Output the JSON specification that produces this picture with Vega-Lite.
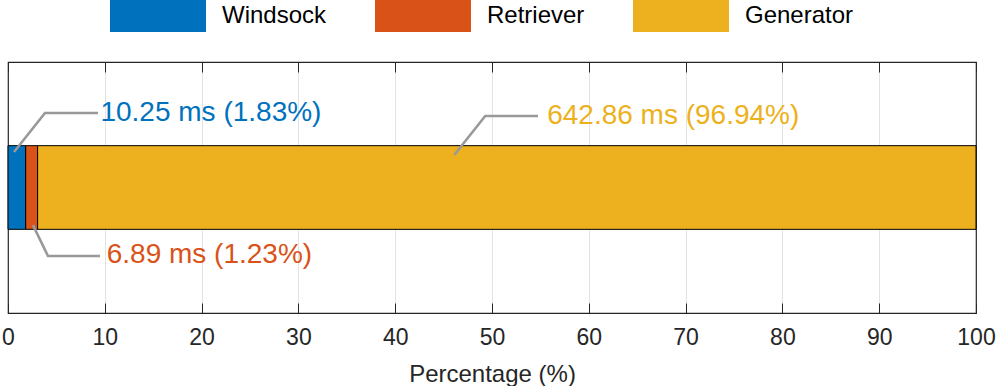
{
  "$schema": "https://vega.github.io/schema/vega-lite/v6.json",
  "width": 968,
  "height": 251,
  "padding": {"left": 1, "right": 2, "top": 0, "bottom": 0},
  "background": "white",
  "config": {
    "font": "Liberation Sans",
    "view": {"stroke": "#262626", "strokeWidth": 1.2}
  },
  "datasets": {
    "parts": [
      {"name": "Windsock", "ms": 10.25, "pct": 1.83, "order": 1},
      {"name": "Retriever", "ms": 6.89, "pct": 1.23, "order": 2},
      {"name": "Generator", "ms": 642.86, "pct": 96.94, "order": 3}
    ],
    "leaders": [
      {"name": "Windsock", "i": 1, "x": 0.62, "y": 1.924},
      {"name": "Windsock", "i": 2, "x": 3.82, "y": 2.39},
      {"name": "Windsock", "i": 3, "x": 9.3, "y": 2.39},
      {"name": "Retriever", "i": 1, "x": 2.58, "y": 1.05},
      {"name": "Retriever", "i": 2, "x": 4.13, "y": 0.681},
      {"name": "Retriever", "i": 3, "x": 9.5, "y": 0.681},
      {"name": "Generator", "i": 1, "x": 46.1, "y": 1.888},
      {"name": "Generator", "i": 2, "x": 49.3, "y": 2.355},
      {"name": "Generator", "i": 3, "x": 54.75, "y": 2.355}
    ],
    "labels": [
      {"name": "Windsock", "x": 9.55, "y": 2.39, "label": "10.25 ms (1.83%)"},
      {"name": "Retriever", "x": 10.2, "y": 0.69, "label": "6.89 ms (1.23%)"},
      {"name": "Generator", "x": 55.7, "y": 2.355, "label": "642.86 ms (96.94%)"}
    ]
  },
  "resolve": {"axis": {"x": "independent"}},
  "layer": [
    {
      "data": {"name": "parts"},
      "transform": [
        {"stack": "pct", "groupby": [], "sort": [{"field": "order", "order": "ascending"}], "as": ["x0", "x1"]}
      ],
      "mark": {"type": "bar", "stroke": "#000000", "strokeWidth": 1},
      "encoding": {
        "x": {
          "field": "x0",
          "type": "quantitative",
          "scale": {"domain": [0, 100], "nice": false, "zero": false},
          "axis": {
            "orient": "bottom",
            "title": "Percentage (%)",
            "values": [0, 10, 20, 30, 40, 50, 60, 70, 80, 90, 100],
            "domain": true,
            "domainColor": "#262626",
            "domainWidth": 1.2,
            "ticks": true,
            "tickSize": -10,
            "tickColor": "#262626",
            "tickWidth": 1,
            "grid": true,
            "gridColor": {"condition": {"test": "datum.value === 0 || datum.value === 100", "value": "transparent"}, "value": "#e3e3e3"},
            "gridWidth": 1,
            "labelFontSize": 23,
            "labelColor": "#262626",
            "labelPadding": 23,
            "labelFlush": false,
            "titleFontSize": 24,
            "titleFontWeight": "normal",
            "titleColor": "#262626",
            "titlePadding": 13
          }
        },
        "x2": {"field": "x1"},
        "y": {"datum": 1, "type": "quantitative", "scale": {"domain": [0, 3], "nice": false, "zero": false}, "axis": null},
        "y2": {"datum": 2},
        "color": {
          "field": "name",
          "type": "nominal",
          "sort": ["Windsock", "Retriever", "Generator"],
          "scale": {"domain": ["Windsock", "Retriever", "Generator"], "range": ["#0072BD", "#D95319", "#EDB120"]},
          "legend": {
            "orient": "none",
            "legendX": 134,
            "legendY": -62,
            "direction": "horizontal",
            "title": null,
            "padding": 0,
            "symbolType": "M-3,-1H3V1H-3Z",
            "symbolSize": 1024,
            "symbolStrokeWidth": 0,
            "symbolOpacity": 1,
            "labelFontSize": 24,
            "labelColor": "#000000",
            "labelOffset": 48,
            "columnPadding": 48
          }
        }
      }
    },
    {
      "data": {"name": "leaders"},
      "mark": {"type": "line", "color": "#999999", "strokeWidth": 2.6},
      "encoding": {
        "x": {
          "field": "x",
          "type": "quantitative",
          "axis": {
            "orient": "top",
            "title": null,
            "values": [0, 10, 20, 30, 40, 50, 60, 70, 80, 90, 100],
            "labels": false,
            "grid": false,
            "domain": true,
            "domainColor": "#262626",
            "domainWidth": 1.2,
            "ticks": true,
            "tickSize": -10,
            "tickColor": "#262626",
            "tickWidth": 1
          }
        },
        "y": {"field": "y", "type": "quantitative", "axis": null},
        "detail": {"field": "name"},
        "order": {"field": "i"}
      }
    },
    {
      "data": {"name": "labels"},
      "mark": {"type": "text", "align": "left", "baseline": "middle", "fontSize": 28, "font": "Liberation Sans"},
      "encoding": {
        "x": {"field": "x", "type": "quantitative", "axis": null},
        "y": {"field": "y", "type": "quantitative", "axis": null},
        "text": {"field": "label"},
        "color": {"field": "name", "type": "nominal", "legend": null}
      }
    }
  ]
}
